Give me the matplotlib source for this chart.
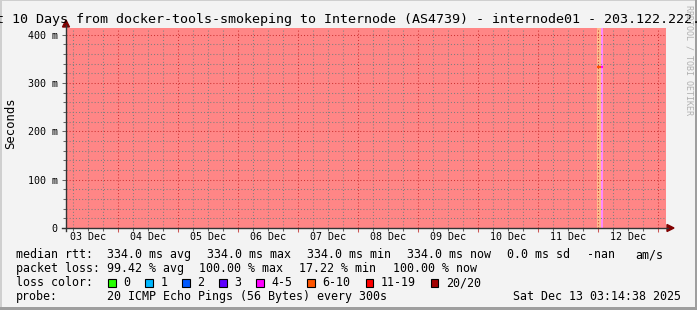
import matplotlib

matplotlib.use("Agg")

import matplotlib.dates as mdates
import matplotlib.pyplot as plt
import numpy as np
from matplotlib.patches import Polygon, Rectangle
from matplotlib.ticker import FuncFormatter, MultipleLocator


W, H = 697, 310
MONO = "DejaVu Sans Mono"

TITLE = (
    "Last 10 Days from docker-tools-smokeping to Internode (AS4739)"
    " - internode01 - 203.122.222.222"
)

START_TIME = "2025-12-03 03:14:38"
END_TIME = "2025-12-13 03:14:38"

# loss segments: start time, pings lost out of 20, median rtt (ms)
segment_starts = [
    "2025-12-03 03:14:38",
    "2025-12-11 23:38:00",
    "2025-12-12 01:14:00",
    "2025-12-12 02:02:00",
]
segment_lost = [20, 8, 4, 20]
segment_median_ms = [np.nan, 334.0, 334.0, np.nan]

loss_labels = ["0", "1", "2", "3", "4-5", "6-10", "11-19", "20/20"]
loss_upper = [0, 1, 2, 3, 5, 10, 19, 20]
loss_colors = [
    "#26ff00", "#00b8ff", "#0059ff", "#5e00ff",
    "#ff00ff", "#ff5500", "#ff0000", "#a10000",
]
loss_bg_colors = [
    "#92ff80", "#80dcff", "#80acff", "#af80ff",
    "#ff88ff", "#ffbb8c", "#ff8080", "#ff8686",
]

rtt_stat_names = ["avg", "max", "min", "now"]
rtt_stat_values = [334.0, 334.0, 334.0, 334.0]
rtt_sd = 0.0
loss_stat_names = ["avg", "max", "min", "now"]
loss_stat_values = [99.42, 100.00, 17.22, 100.00]

PROBE_TEXT = "20 ICMP Echo Pings (56 Bytes) every 300s"
STAMP_TEXT = "Sat Dec 13 03:14:38 2025"


def fig_xy(x, y):
    return x / W, 1 - y / H


def loss_bucket(lost):
    for index, upper in enumerate(loss_upper):
        if lost <= upper:
            return index
    return len(loss_upper) - 1


def y_label(value, _pos):
    if abs(value) < 1e-9:
        return "0"
    return f"{value * 1000:.0f} m"


def main() -> None:
    fig = plt.figure(figsize=(W / 100, H / 100), dpi=100)
    fig.patch.set_facecolor("#f3f3f3")

    ax = fig.add_axes([66 / W, 1 - 228 / H, 600 / W, 200 / H])
    ax.set_facecolor("white")

    starts = [np.datetime64(s) for s in segment_starts]
    ends = starts[1:] + [np.datetime64(END_TIME)]

    for seg_start, seg_end, lost in zip(starts, ends, segment_lost):
        ax.axvspan(
            seg_start, seg_end,
            color=loss_bg_colors[loss_bucket(lost)],
            lw=0, zorder=1,
        )

    for seg_start, seg_end, lost, median in zip(
        starts, ends, segment_lost, segment_median_ms
    ):
        if np.isnan(median):
            continue
        ax.hlines(
            median / 1000.0, seg_start, seg_end,
            colors=loss_colors[loss_bucket(lost)],
            lw=1.6, zorder=4,
        )

    ax.set_xlim(np.datetime64(START_TIME), np.datetime64(END_TIME))
    ax.set_ylim(0, 0.414)

    ax.set_axisbelow(False)
    for spine in ax.spines.values():
        spine.set_visible(False)

    # y axis grid and labels
    ax.yaxis.set_major_locator(MultipleLocator(0.1))
    ax.yaxis.set_minor_locator(MultipleLocator(0.02))
    ax.yaxis.set_major_formatter(FuncFormatter(y_label))

    # x axis: red lines at midnight, grey every 6 hours
    ax.xaxis.set_major_locator(mdates.DayLocator())
    ax.xaxis.set_minor_locator(mdates.HourLocator(byhour=[6, 12, 18]))
    ax.xaxis.set_major_formatter(plt.NullFormatter())

    ax.grid(
        which="major", color=(0.8, 0.2, 0.2, 0.45),
        linestyle=(0, (1, 2)), lw=0.75,
    )
    ax.grid(
        which="minor", color=(0.5, 0.5, 0.5, 0.28),
        linestyle=(0, (1, 2)), lw=0.75,
    )

    ax.tick_params(
        axis="both", which="both", direction="out",
        color="#666666", width=0.75,
    )
    ax.tick_params(axis="y", which="major", length=3, pad=3)
    ax.tick_params(axis="y", which="minor", length=2)
    ax.tick_params(axis="x", which="major", length=3, color="#cc5555")
    ax.tick_params(axis="x", which="minor", length=2)
    for label in ax.get_yticklabels():
        label.set_fontfamily(MONO)
        label.set_fontsize(7.2)

    day_labels = ax.secondary_xaxis("bottom")
    day_labels.xaxis.set_major_locator(mdates.HourLocator(byhour=12))
    day_labels.xaxis.set_major_formatter(mdates.DateFormatter("%d %b"))
    day_labels.tick_params(length=0, pad=3)
    for spine in day_labels.spines.values():
        spine.set_visible(False)
    for label in day_labels.get_xticklabels():
        label.set_fontfamily(MONO)
        label.set_fontsize(7.2)

    # axis lines with arrows
    axis_color = "#333333"
    arrow_color = "#800000"
    x0, y0 = fig_xy(66, 231)
    x1, y1 = fig_xy(66, 25)
    fig.add_artist(plt.Line2D([x0, x1], [y0, y1], color=axis_color, lw=1.0))
    x0, y0 = fig_xy(62, 228)
    x1, y1 = fig_xy(668, 228)
    fig.add_artist(plt.Line2D([x0, x1], [y0, y1], color=axis_color, lw=1.0))
    fig.add_artist(Polygon(
        [fig_xy(62.5, 27), fig_xy(69.5, 27), fig_xy(66, 20)],
        closed=True, color=arrow_color, transform=fig.transFigure,
    ))
    fig.add_artist(Polygon(
        [fig_xy(667, 224.5), fig_xy(667, 231.5), fig_xy(674, 228)],
        closed=True, color=arrow_color, transform=fig.transFigure,
    ))

    # titles
    fig.text(
        *fig_xy(348.5, 19), TITLE, ha="center", va="center",
        family=MONO, fontsize=9.6,
    )
    fig.text(
        *fig_xy(11, 123), "Seconds", ha="center", va="center",
        rotation=90, family=MONO, fontsize=8.8,
    )
    fig.text(
        *fig_xy(689, 5), "RRDTOOL / TOBI OETIKER", ha="center", va="top",
        rotation=270, family=MONO, fontsize=6.0, color="#b0b0b0",
    )

    # legend
    text_kw = dict(family=MONO, fontsize=8.4, va="baseline", ha="left")

    row_y = 258
    fig.text(*fig_xy(16, row_y), "median rtt:", **text_kw)
    rtt_x = [107, 207, 307, 407.5]
    for x, name, value in zip(rtt_x, rtt_stat_names, rtt_stat_values):
        fig.text(*fig_xy(x, row_y), f"{value:.1f} ms {name}", **text_kw)
    fig.text(*fig_xy(507.3, row_y), f"{rtt_sd:.1f} ms sd", **text_kw)
    fig.text(*fig_xy(586.7, row_y), "-nan", **text_kw)
    fig.text(*fig_xy(635, row_y), "am/s", **text_kw)

    row_y = 272
    fig.text(*fig_xy(16, row_y), "packet loss:", **text_kw)
    loss_x = [107, 199.3, 299, 393.3]
    for x, name, value in zip(loss_x, loss_stat_names, loss_stat_values):
        fig.text(*fig_xy(x, row_y), f"{value:.2f} % {name}", **text_kw)

    row_y = 286
    fig.text(*fig_xy(16, row_y), "loss color:", **text_kw)
    box_x = [108.3, 145.3, 182.3, 219.3, 256, 307, 365.5, 430.7]
    for x, label, color in zip(box_x, loss_labels, loss_colors):
        bx, by = fig_xy(x, 286.5)
        fig.add_artist(Rectangle(
            (bx, by), 7.5 / W, 8 / H, transform=fig.transFigure,
            facecolor=color, edgecolor="black", lw=0.8,
        ))
        fig.text(*fig_xy(x + 15, row_y), label, **text_kw)

    row_y = 300
    fig.text(*fig_xy(16, row_y), "probe:", **text_kw)
    fig.text(*fig_xy(107, row_y), PROBE_TEXT, **text_kw)
    fig.text(*fig_xy(513.3, row_y), STAMP_TEXT, **text_kw)

    # frame shading
    for (x, y, w, h, color) in [
        (0, 0, 2, H, "#cfcfcf"),
        (0, 0, W, 1, "#cfcfcf"),
        (W - 2, 0, 2, H, "#9e9e9e"),
        (0, H - 3, W, 3, "#9e9e9e"),
    ]:
        fx, fy = fig_xy(x, y + h)
        fig.add_artist(Rectangle(
            (fx, fy), w / W, h / H, transform=fig.transFigure,
            facecolor=color, edgecolor="none",
        ))

    fig.savefig("out.png", dpi=100)
    plt.close(fig)


if __name__ == "__main__":
    main()
